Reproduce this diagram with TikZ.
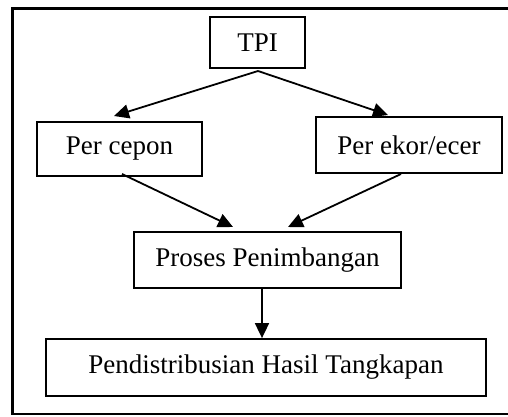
\documentclass[tikz,border=0pt]{standalone}
\usepackage{fontspec}
\setmainfont{Liberation Serif}
\usetikzlibrary{arrows.meta,calc}
\begin{document}
\begin{tikzpicture}[x=1pt,y=-1pt,
  box/.style={draw,line width=1.8pt,inner sep=0pt,align=center,font=\fontsize{27}{32}\selectfont},
  conn/.style={line width=1.8pt,-{Triangle[length=15pt,width=14pt]}}]
\useasboundingbox (0,0) rectangle (508,416);
\clip (0,0) rectangle (508,416);
\draw[line width=2.6pt] (520,8.5) -- (12.5,8.5) -- (12.5,414) -- (520,414);
\node[box,minimum width=95pt,minimum height=51pt] (tpi) at (257.5,42.5) {TPI};
\node[box,minimum width=165pt,minimum height=54pt] (cepon) at (119.5,149) {Per cepon};
\node[box,minimum width=186pt,minimum height=56pt] (ekor) at (409,145) {Per ekor/ecer};
\node[box,minimum width=267pt,minimum height=56pt] (proses) at (267.5,260) {Proses Penimbangan};
\node[box,minimum width=440pt,minimum height=57pt] (dist) at (266,367.5) {Pendistribusian Hasil Tangkapan};
\coordinate (t0) at (258,71);
\coordinate (t1) at (114,116);
\coordinate (t2) at (388,115);
\coordinate (c0) at (122,174);
\coordinate (p1) at (233,227);
\coordinate (e0) at (401,174);
\coordinate (p2) at (288,227);
\draw[conn] (t0) -- (t1);
\draw[conn] (t0) -- (t2);
\draw[conn] (c0) -- (p1);
\draw[conn] (e0) -- (p2);
\draw[conn] (proses.south -| 262,0) -- (dist.north -| 262,0);
\end{tikzpicture}
\end{document}
